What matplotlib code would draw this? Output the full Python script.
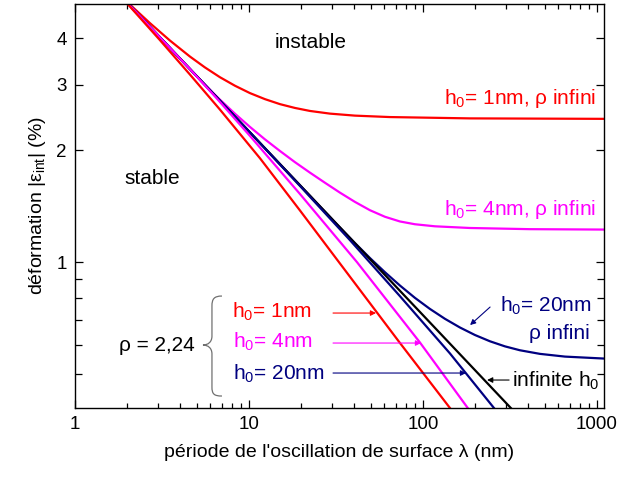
import matplotlib
matplotlib.use("Agg")
import matplotlib.pyplot as plt
from matplotlib.path import Path
from matplotlib.patches import PathPatch

plt.rcParams['font.family'] = ['Liberation Sans', 'DejaVu Sans']
plt.rcParams['mathtext.fontset'] = 'custom'
plt.rcParams['mathtext.rm'] = 'Liberation Sans'
plt.rcParams['mathtext.it'] = 'Liberation Sans:italic'

# courbes (lambda en nm, deformation en %)
# rho infini
lam_1nm_inf = [2.071, 2.698, 3.516, 4.58, 5.586, 6.813, 8.311, 10.13, 12.36, 15.08,
               18.38, 22.42, 29.21, 40.67, 64.6, 186.2, 1097]
def_1nm_inf = [4.937, 4.401, 3.950, 3.577, 3.344, 3.147, 2.985, 2.852, 2.747, 2.663,
               2.601, 2.553, 2.511, 2.480, 2.458, 2.438, 2.431]

lam_4nm_inf = [2.04, 4.58, 5.586, 6.813, 8.311, 10.13, 12.36, 15.08, 18.38, 22.42, 27.35,
               33.34, 40.67, 49.60, 60.49, 73.78, 89.95, 117.2, 186.2, 412.0, 1097]
def_4nm_inf = [4.94, 3.312, 3.005, 2.739, 2.510, 2.313, 2.141, 1.992, 1.859, 1.742, 1.636,
               1.539, 1.453, 1.380, 1.325, 1.287, 1.265, 1.249, 1.236, 1.227, 1.224]

lam_20nm_inf = [2.04, 33.34, 40.67, 49.60, 60.49, 73.78, 89.95, 109.7, 133.8, 163.2,
                199.0, 242.7, 296.0, 360.9, 470.4, 655.0, 1097]
def_20nm_inf = [4.94, 1.240, 1.126, 1.026, 0.9397, 0.8652, 0.8017, 0.7485, 0.7040, 0.6671,
                0.6368, 0.6125, 0.5935, 0.5793, 0.5665, 0.5570, 0.5503]

# rho = 2,24
lam_1nm = [2.02, 3.08, 4.58, 6.81, 11.57, 19.6, 33.3, 73.8, 143]
def_1nm = [4.94, 3.96, 3.20, 2.576, 1.905, 1.380, 0.993, 0.606, 0.405]

lam_4nm = [2.04, 4.58, 6.55, 10.13, 19.6, 41.8, 96.1, 181]
def_4nm = [4.94, 3.31, 2.756, 2.188, 1.528, 1.0, 0.608, 0.405]

lam_20nm = [2.04, 10.13, 19.6, 38.1, 73.8, 143, 256]
def_20nm = [4.94, 2.236, 1.606, 1.146, 0.810, 0.568, 0.405]

# h0 infini
lam_inf = [2.04, 29.2, 320]
def_inf = [4.94, 1.325, 0.405]

RED = '#ff0000'
MAG = '#ff00ff'
NAVY = '#000080'

fig = plt.figure(figsize=(6.19, 4.78), dpi=100)
ax = fig.add_axes([0.121, 0.1464, 0.855, 0.845])

lw = 1.6
ax.plot(lam_1nm_inf, def_1nm_inf, color=RED, lw=lw)
ax.plot(lam_4nm_inf, def_4nm_inf, color=MAG, lw=lw)
ax.plot(lam_20nm_inf, def_20nm_inf, color=NAVY, lw=lw)
ax.plot(lam_inf, def_inf, color='black', lw=lw)
ax.plot(lam_20nm, def_20nm, color=NAVY, lw=lw)
ax.plot(lam_4nm, def_4nm, color=MAG, lw=lw)
ax.plot(lam_1nm, def_1nm, color=RED, lw=lw)

ax.set_xscale('log')
ax.set_yscale('log')
ax.set_xlim(1, 1100)
ax.set_ylim(0.405, 4.95)

ax.set_yticks([1, 2, 3, 4])
ax.set_yticklabels(['1', '2', '3', '4'])
ax.set_yticks([0.5, 0.6, 0.7, 0.8, 0.9], minor=True)
ax.set_xticks([1, 10, 100, 1000])
ax.set_xticklabels(['1', '10', '100', '1000'])
ax.tick_params(which='both', direction='in', top=True, right=True, labelsize=13.5, width=0.9)
ax.tick_params(which='major', length=6, pad=6)
ax.tick_params(which='minor', length=3.5)
ax.tick_params(axis='y', which='minor', length=5)
for sp in ax.spines.values():
    sp.set_linewidth(1.0)

ax.set_xlabel("période de l'oscillation de surface λ (nm)", fontsize=14, labelpad=8)
ax.set_ylabel(r'déformation |ε$_{\mathrm{int}}$| (%)', fontsize=14, labelpad=6)


# positions en pixels de l'image -> fraction d'axes
def pos(px, py):
    return ((px - 75) / 529.0, (408 - py) / 404.0)


fs = 15
ax.text(*pos(311, 48), 'instable', fontsize=fs, ha='center', va='baseline', transform=ax.transAxes)
ax.text(*pos(152, 184), 'stable', fontsize=fs, ha='center', va='baseline', transform=ax.transAxes)
ax.text(*pos(596, 104), r'h$_0$= 1nm, ρ infini', fontsize=fs, color=RED, ha='right', va='baseline', transform=ax.transAxes)
ax.text(*pos(596, 215), r'h$_0$= 4nm, ρ infini', fontsize=fs, color=MAG, ha='right', va='baseline', transform=ax.transAxes)
ax.text(*pos(591, 312), r'h$_0$= 20nm', fontsize=fs, color=NAVY, ha='right', va='baseline', transform=ax.transAxes)
ax.text(*pos(590, 339), 'ρ infini', fontsize=fs, color=NAVY, ha='right', va='baseline', transform=ax.transAxes)
ax.text(*pos(512, 387), r'infinite h$_0$', fontsize=fs, color='black', ha='left', va='baseline', transform=ax.transAxes)
ax.text(*pos(195, 351), 'ρ = 2,24', fontsize=fs, color='black', ha='right', va='baseline', transform=ax.transAxes)
ax.text(*pos(232, 318), r'h$_0$= 1nm', fontsize=fs, color=RED, ha='left', va='baseline', transform=ax.transAxes)
ax.text(*pos(233, 348), r'h$_0$= 4nm', fontsize=fs, color=MAG, ha='left', va='baseline', transform=ax.transAxes)
ax.text(*pos(233, 380), r'h$_0$= 20nm', fontsize=fs, color=NAVY, ha='left', va='baseline', transform=ax.transAxes)

arrows = [((333, 313), (376, 313), RED),
          ((333, 343), (421, 343), MAG),
          ((333, 373), (466, 373), NAVY),
          ((490, 307), (470, 325), NAVY),
          ((509, 380), (487, 380), 'black')]
for a, b, c in arrows:
    ax.annotate('', xy=pos(*b), xytext=pos(*a), xycoords='axes fraction', textcoords='axes fraction',
                arrowprops=dict(arrowstyle='-|>', color=c, lw=0.8, mutation_scale=8, shrinkA=0, shrinkB=0))

# accolade
pts = [(222, 296), (214, 296), (212, 299), (212, 306), (212, 336),
       (212, 342), (208, 345), (203, 345),
       (208, 345), (212, 348), (212, 354), (212, 387),
       (212, 394), (214, 396), (222, 396)]
codes = [Path.MOVETO, Path.CURVE4, Path.CURVE4, Path.CURVE4, Path.LINETO,
         Path.CURVE4, Path.CURVE4, Path.CURVE4,
         Path.CURVE4, Path.CURVE4, Path.CURVE4, Path.LINETO,
         Path.CURVE4, Path.CURVE4, Path.CURVE4]
brace = Path([pos(*p) for p in pts], codes)
ax.add_patch(PathPatch(brace, fill=False, edgecolor='#707070', lw=0.9, transform=ax.transAxes, clip_on=False))

fig.savefig('out.png', dpi=100)
